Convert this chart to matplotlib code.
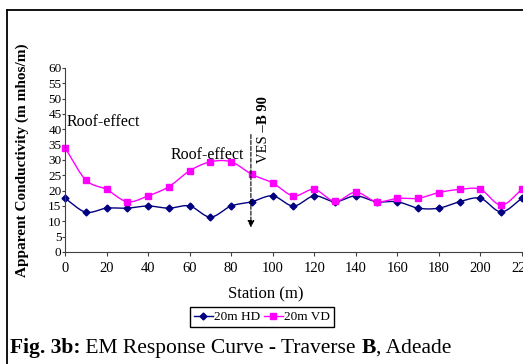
import matplotlib
matplotlib.use("Agg")
from matplotlib import pyplot as plt
from matplotlib.lines import Line2D
import numpy as np

# data
station = [0, 10, 20, 30, 40, 50, 60, 70, 80, 90, 100, 110,
           120, 130, 140, 150, 160, 170, 180, 190, 200, 210, 220]
hd_20m = [17.5, 13, 14.3, 14.3, 15, 14.3, 15, 11.4, 15, 16.4, 18.3, 15,
          18.3, 16.4, 18.3, 16.4, 16.4, 14.3, 14.3, 16.4, 17.5, 13.1, 17.5]
vd_20m = [34, 23.5, 20.4, 16.4, 18.3, 21.3, 26.5, 29.4, 29.4, 25.3, 22.5, 18.3,
          20.4, 16.5, 19.5, 16.4, 17.5, 17.5, 19.4, 20.4, 20.4, 15.3, 20.4]
yticks = list(range(0, 61, 5))
xticks = list(range(0, 221, 20))

plt.rcParams['font.family'] = ['Liberation Serif', 'DejaVu Serif']


def smooth(x, y, n=12):
    # catmull-rom curve through the points, like the spreadsheet's smoothed line
    x = np.asarray(x, float)
    y = np.asarray(y, float)
    px = np.concatenate([[2*x[0]-x[1]], x, [2*x[-1]-x[-2]]])
    py = np.concatenate([[2*y[0]-y[1]], y, [2*y[-1]-y[-2]]])
    xs, ys = [], []
    t = np.linspace(0, 1, n, endpoint=False)
    for i in range(1, len(px)-2):
        for p, out in ((px, xs), (py, ys)):
            p0, p1, p2, p3 = p[i-1], p[i], p[i+1], p[i+2]
            out.extend(0.5*((2*p1) + (-p0+p2)*t + (2*p0-5*p1+4*p2-p3)*t**2
                            + (-p0+3*p1-3*p2+p3)*t**3))
    xs.append(x[-1])
    ys.append(y[-1])
    return xs, ys


fig = plt.figure(figsize=(5.23, 3.64), dpi=100)
ax = fig.add_axes([65/523, 1-252/364, 458/523, 184/364])

for yv, col, mk, ms in ((hd_20m, '#000080', 'D', 3.5),
                        (vd_20m, '#FF00FF', 's', 4.5)):
    sx, sy = smooth(station, yv)
    ax.plot(sx, sy, color=col, lw=1, clip_on=False)
    ax.plot(station, yv, ls='none', marker=mk, ms=ms, color=col, clip_on=False)

ax.set_xlim(0, 220.5)
ax.set_ylim(0, 60)
ax.set_xticks(xticks)
ax.set_yticks(yticks)
ax.tick_params(axis='x', labelsize=10.5, length=3, pad=4, color='#404040')
ax.tick_params(axis='y', labelsize=9.5, length=2, pad=0.5, color='#404040')
for s in ['top', 'right']:
    ax.spines[s].set_visible(False)
for s in ['left', 'bottom']:
    ax.spines[s].set_color('#404040')

ax.set_xlabel('Station (m)', fontsize=12)
ax.xaxis.set_label_coords((266-65)/458, -34/184)
fig.text(22/523, 1-160/364, 'Apparent Conductivity (m mhos/m)', rotation=90,
         ha='center', va='center', fontsize=11, fontweight='bold')

ax.text(1, 42.3, 'Roof-effect', fontsize=11.5, va='center')
ax.text(51, 31.6, 'Roof-effect', fontsize=11.5, va='center')

# VES marker
ax.annotate('', xy=(89.5, 8), xytext=(89.5, 38.3),
            arrowprops=dict(arrowstyle='-|>', ls='--', lw=0.8, color='black',
                            mutation_scale=10, shrinkA=0, shrinkB=0))
t1 = ax.text(95.5, 29, 'VES \u2013', rotation=90, fontsize=10.5,
             ha='center', va='bottom')
ax.annotate('B 90', xy=(95.5, 1), xycoords=('data', t1), rotation=90,
            fontsize=10.5, fontweight='bold', ha='center', va='bottom')

handles = [Line2D([], [], color='#000080', marker='D', ms=3.5, lw=1),
           Line2D([], [], color='#FF00FF', marker='s', ms=4.5, lw=1)]
fig.legend(handles, ['20m HD', '20m VD'], loc='center',
           bbox_to_anchor=(262/523, 1-317/364), ncol=2, fontsize=9.5,
           fancybox=False, edgecolor='black', framealpha=1,
           handlelength=1.4, handletextpad=0.1, columnspacing=0.3,
           borderpad=0.3, borderaxespad=0)

# caption, bold and plain pieces placed one after another
cy = 1-353/364
prev = fig.text(10/523, cy, 'Fig. 3b:', fontsize=15.5, fontweight='bold',
                va='baseline')
for piece, wt in ((' EM Response Curve - Traverse ', 'normal'),
                  ('B', 'bold'), (', Adeade', 'normal')):
    prev = fig.add_artist(plt.Annotation(piece, xy=(1, cy),
                                         xycoords=(prev, 'figure fraction'),
                                         fontsize=15.5, fontweight=wt,
                                         va='baseline'))

# outer frame
fig.add_artist(Line2D([7/523, 1], [1-10/364, 1-10/364], color='black', lw=1.3))
fig.add_artist(Line2D([7/523, 7/523], [0, 1-10/364], color='black', lw=1.3))

fig.savefig('out.png', dpi=100)
